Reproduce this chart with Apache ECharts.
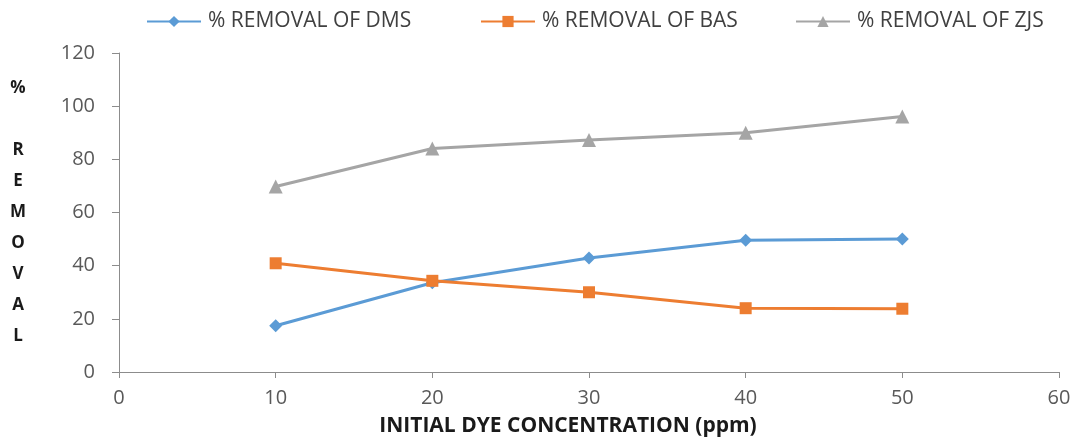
<!DOCTYPE html>
<html><head><meta charset="utf-8">
<script src="https://cdn.jsdelivr.net/npm/echarts@6/dist/echarts.min.js"></script>
<style>html,body{margin:0;padding:0;background:#fff}#c{width:1078px;height:438px}</style>
</head><body><div id="c"></div>
<script>
const concentration = [10, 20, 30, 40, 50];
const dms = [17.4, 33.6, 42.9, 49.6, 50.0];
const bas = [40.9, 34.3, 30.0, 24.0, 23.8];
const zjs = [69.8, 84.1, 87.3, 90.0, 96.1];
const seriesNames = ['% REMOVAL OF DMS', '% REMOVAL OF BAS', '% REMOVAL OF ZJS'];
const xTitle = 'INITIAL DYE CONCENTRATION (ppm)';
const yTitle = '%\n\nR\nE\nM\nO\nV\nA\nL';

const font = 'Open Sans';
const toPairs = (arr) => concentration.map((x, i) => [x, arr[i]]);
const colors = ['#5B9BD5', '#ED7D31', '#A5A5A5'];
const symbols = ['diamond', 'rect', 'triangle'];
const symbolSizes = [13, 12, 14];

const chart = echarts.init(document.getElementById('c'));
const legendLefts = [146, 480, 795];
chart.setOption({
  animation: false,
  color: colors,
  grid: { left: 119, right: 19, top: 53, bottom: 66, containLabel: false, outerBoundsMode: 'none' },
  legend: legendLefts.map((l, i) => ({
    data: [seriesNames[i]], left: l, top: 11, padding: 0, itemWidth: 54, itemHeight: 14, itemGap: 0,
    textStyle: { fontFamily: font, fontSize: 21, color: '#404040', padding: [0, 0, 0, 2] }
  })),
  xAxis: {
    type: 'value', min: 0, max: 60, interval: 10,
    name: xTitle, nameLocation: 'middle', nameGap: 44,
    nameTextStyle: { fontFamily: font, fontSize: 21, fontWeight: 'bold', color: '#1a1a1a', padding: [0, 42, 0, 0] },
    axisLine: { lineStyle: { color: '#8c8c8c', width: 1 } },
    axisTick: { show: true, length: 6, lineStyle: { color: '#8c8c8c' } },
    axisLabel: { fontFamily: font, fontSize: 20, color: '#595959', margin: 16 },
    splitLine: { show: false }
  },
  yAxis: {
    type: 'value', min: 0, max: 120, interval: 20,
    name: yTitle, nameLocation: 'middle', nameGap: 101, nameRotate: 0,
    nameTextStyle: { fontFamily: font, fontSize: 17, fontWeight: 'bold', color: '#1a1a1a', lineHeight: 31, align: 'center' },
    axisLine: { show: true, lineStyle: { color: '#8c8c8c', width: 1 } },
    axisTick: { show: true, length: 7, lineStyle: { color: '#8c8c8c' } },
    axisLabel: { fontFamily: font, fontSize: 20, color: '#595959', margin: 24 },
    splitLine: { show: false }
  },
  series: [dms, bas, zjs].map((arr, i) => ({
    name: seriesNames[i], type: 'line', data: toPairs(arr),
    symbol: symbols[i], symbolSize: symbolSizes[i],
    lineStyle: { width: 3, color: colors[i] },
    itemStyle: { color: colors[i] }
  }))
});
</script></body></html>
